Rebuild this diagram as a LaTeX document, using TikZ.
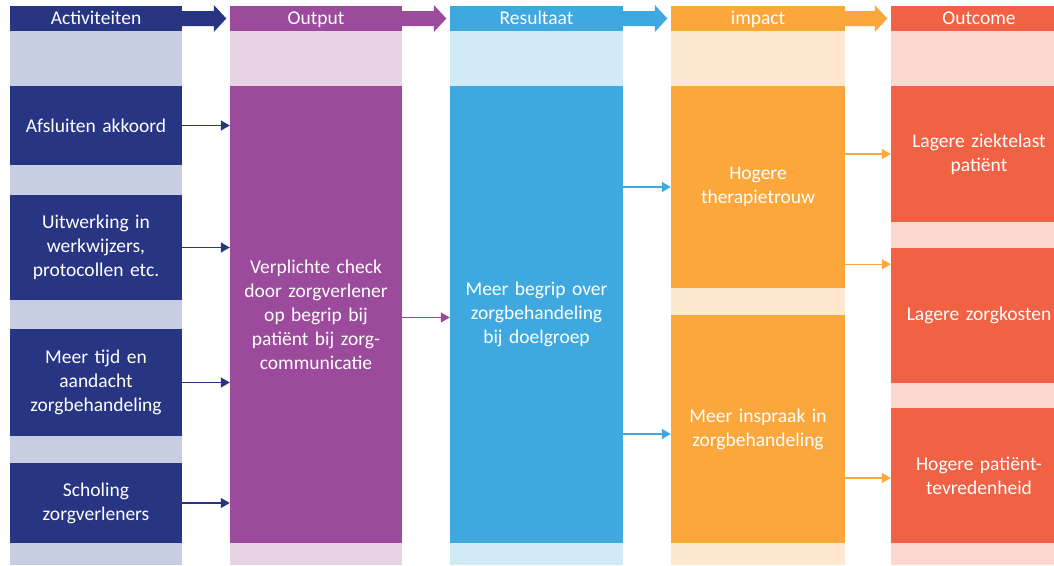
\documentclass[tikz,border=0pt]{standalone}
\usepackage{fontspec}
\setmainfont{Carlito}
\usetikzlibrary{arrows.meta,calc}

\definecolor{navy}{RGB}{40,53,131}
\definecolor{navyL}{RGB}{200,206,226}
\definecolor{purp}{RGB}{156,74,155}
\definecolor{purpL}{RGB}{232,211,230}
\definecolor{blu}{RGB}{63,169,223}
\definecolor{bluL}{RGB}{210,233,246}
\definecolor{oran}{RGB}{251,167,59}
\definecolor{oranL}{RGB}{254,232,208}
\definecolor{redd}{RGB}{241,97,68}
\definecolor{reddL}{RGB}{252,216,208}

\tikzset{
  txt/.style={font=\fontsize{19.5}{24}\selectfont, text=white, align=center, inner sep=0pt},
  box/.style={txt, minimum height=#1, text width=172pt},
  head/.style={txt, minimum height=25pt, text height=14pt, text depth=1.5pt},
  conn/.style={line width=1.2pt, -{Triangle[length=9pt,width=10pt]}},
}

\begin{document}
\begin{tikzpicture}[x=1pt,y=-1pt]
\useasboundingbox (0,0) rectangle (1054,565);
\clip (0,0) rectangle (1054,565);

% light column backgrounds
\fill[navyL] (10,31) rectangle (182,565);
\fill[purpL] (230,31) rectangle (402,565);
\fill[bluL]  (450,31) rectangle (623,565);
\fill[oranL] (671,31) rectangle (845,565);
\fill[reddL] (891,31) rectangle (1067,565);

% column headers
\node[head, fill=navy, minimum width=172pt] (h1) at (96,18.5) {Activiteiten};
\node[head, fill=purp, minimum width=172pt] (h2) at (316,18.5) {Output};
\node[head, fill=blu,  minimum width=173pt] (h3) at (536.5,18.5) {Resultaat};
\node[head, fill=oran, minimum width=174pt] (h4) at (758,18.5) {impact};
\node[head, fill=redd, minimum width=176pt] (h5) at (979,18.5) {Outcome};

% block arrows between headers
\foreach \a/\b/\c in {h1/h2/navy, h2/h3/purp, h3/h4/blu, h4/h5/oran}{
  \fill[\c] ($(\a.east)+(0,-7.5)$) -- ($(\b.west)+(-16,-7.5)$) -- ($(\b.west)+(-16,-13.5)$)
    -- ($(\b.west)+(-3.5,0)$) -- ($(\b.west)+(-16,13.5)$) -- ($(\b.west)+(-16,7.5)$)
    -- ($(\a.east)+(0,7.5)$) -- cycle;
}

% activities
\node[box=79pt,  fill=navy, minimum width=172pt] (a1) at (96,125.5) {Afsluiten akkoord};
\node[box=105pt, fill=navy, minimum width=172pt] (a2) at (96,247.5) {Uitwerking in\\werkwijzers,\\protocollen etc.};
\node[box=107pt, fill=navy, minimum width=172pt] (a3) at (96,382.5) {Meer tijd en\\aandacht\\zorgbehandeling};
\node[box=80pt,  fill=navy, minimum width=172pt] (a4) at (96,503) {Scholing\\zorgverleners};

% output
\node[box=457pt, fill=purp, minimum width=172pt] (out) at (316,314.5) {Verplichte check\\door zorgverlener\\op begrip bij\\patiënt bij zorg-\\communicatie};

% result
\node[box=457pt, fill=blu, minimum width=173pt] (res) at (536.5,314.5) {Meer begrip over\\zorgbehandeling\\bij doelgroep};

% impact
\node[box=202pt, fill=oran, minimum width=174pt] (i1) at (758,187) {Hogere\\therapietrouw};
\node[box=228pt, fill=oran, minimum width=174pt] (i2) at (758,429) {Meer inspraak in\\zorgbehandeling};

% outcome
\node[box=136pt, fill=redd, minimum width=176pt] (o1) at (979,154) {Lagere ziektelast\\patiënt};
\node[box=135pt, fill=redd, minimum width=176pt] (o2) at (979,315) {Lagere zorgkosten};
\node[box=135pt, fill=redd, minimum width=176pt] (o3) at (979,475.5) {Hogere patiënt-\\tevredenheid};

% connectors
\foreach \n in {a1,a2,a3,a4}
  \draw[conn, navy] (\n.east) -- (\n.east -| out.west);
\draw[conn, purp] ($(out.east)+(0,3)$) -- ($(out.east -| res.west)+(0,3)$);
\draw[conn, blu] (i1.west -| res.east) -- (i1.west);
\draw[conn, blu] ($(i2.west -| res.east)+(0,5)$) -- ($(i2.west)+(0,5)$);
\draw[conn, oran] (o1.west -| i1.east) -- (o1.west);
\draw[conn, oran] ($(i1.east |- o2.north)+(0,17)$) -- ($(o2.north west)+(0,17)$);
\draw[conn, oran] ($(o3.west -| i2.east)+(0,2.5)$) -- ($(o3.west)+(0,2.5)$);
\end{tikzpicture}
\end{document}
